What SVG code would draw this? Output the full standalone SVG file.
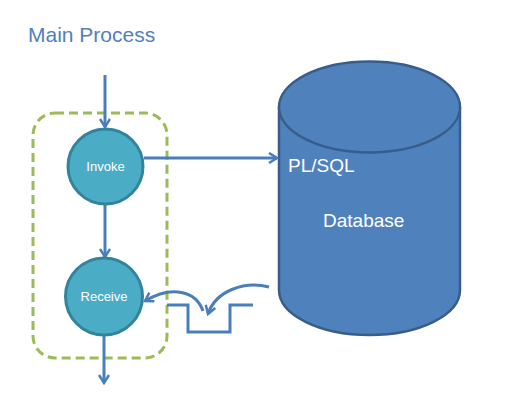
<svg xmlns="http://www.w3.org/2000/svg" width="522" height="410" viewBox="0 0 522 410">
<style>
.ln{fill:none;stroke:#4A7EBB;stroke-width:3}
.nd{fill:#4BACC6;stroke:#31849B;stroke-width:3}
.nt{font-family:"Liberation Sans",Arial,sans-serif;font-size:13px;fill:#fff;text-anchor:middle}
.dt{font-family:"Liberation Sans",Arial,sans-serif;font-size:19px;fill:#fff}
</style>
<defs>
<marker id="ah" viewBox="0 0 12 12" refX="10" refY="6" markerWidth="12" markerHeight="12" markerUnits="userSpaceOnUse" orient="auto">
<path d="M2,1 L10,6 L2,11" fill="none" stroke="#4A7EBB" stroke-width="2.5"/>
</marker>
</defs>
<rect x="0" y="0" width="522" height="410" fill="#fff"/>
<text x="28" y="42" font-family="'Liberation Sans',Arial,sans-serif" font-size="21" fill="#4F81BD">Main Process</text>
<g id="boundary">
<rect x="33" y="113" width="134" height="245" rx="22" fill="none" stroke="#9BBB59" stroke-width="3" stroke-dasharray="9,5"/>
</g>
<g id="database">
<path d="M279,107 L279,290 A90.5,45 0 0 0 460,290 L460,107" fill="#4F81BD" stroke="#385D8A" stroke-width="2.5"/>
<ellipse cx="369.5" cy="107" rx="90.5" ry="45.5" fill="#4F81BD" stroke="#385D8A" stroke-width="2.5"/>
<text class="dt" x="288" y="172">PL/SQL</text>
<text class="dt" x="323" y="227">Database</text>
</g>
<g id="connectors">
<path class="ln" d="M105,75 L105,127" marker-end="url(#ah)"/>
<path class="ln" d="M105,205 L105,257" marker-end="url(#ah)"/>
<path class="ln" d="M104,336 L104,383" marker-end="url(#ah)"/>
<path class="ln" d="M144,158 L277,158" marker-end="url(#ah)"/>
<path class="ln" d="M167,305 L188,305 L188,332 L230,332 L230,305 L253,305"/>
<path class="ln" d="M269,287 C245,281 216,290 208,314" marker-end="url(#ah)"/>
<path class="ln" d="M203,311 C196,291 172,285 145,301" marker-end="url(#ah)"/>
</g>
<g id="invoke">
<circle class="nd" cx="105.5" cy="166.5" r="37.5"/>
<text class="nt" x="105.5" y="171">Invoke</text>
</g>
<g id="receive">
<circle class="nd" cx="104" cy="296.5" r="38.5"/>
<text class="nt" x="104" y="301">Receive</text>
</g>
</svg>
